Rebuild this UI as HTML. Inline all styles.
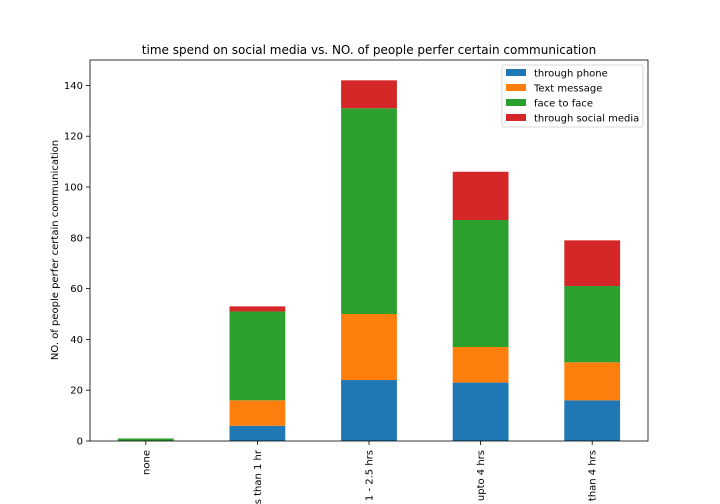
<!DOCTYPE html>
<html><head><meta charset="utf-8"><style>
html,body{margin:0;background:#fff;width:720px;height:504px;overflow:hidden;}
svg{display:block;overflow:hidden;font-family:"DejaVu Sans","Liberation Sans",sans-serif;}
</style></head><body>
<svg id="chart" width="720" height="504" viewBox="0 0 720 504">
<text x="369" y="54" text-anchor="middle" font-size="12">time spend on social media vs. NO. of people perfer certain communication</text>
<text transform="translate(58,250) rotate(-90)" text-anchor="middle" font-size="10">NO. of people perfer certain communication</text>
<g id="marks"></g>
<g id="axes"></g>
<rect x="90" y="60" width="558" height="381" fill="none" stroke="#000" stroke-width="0.8"/>
<g id="legend"></g>
</svg>
<script>
const categories=["none","less than 1 hr","1 - 2.5 hrs","upto 4 hrs","more than 4 hrs"];
const seriesNames=["through phone","Text message","face to face","through social media"];
const phone=[0,6,24,23,16];
const text=[0,10,26,14,15];
const face=[1,35,81,50,30];
const social=[0,2,11,19,18];
const yTicks=[0,20,40,60,80,100,120,140];
const colors=["#1f77b4","#ff7f0e","#2ca02c","#d62728"];
const series=[phone,text,face,social];
const NS="http://www.w3.org/2000/svg";
const x0=90,x1=648,yb=441,pxPer=(441-85.4)/140;
const y=v=>yb-v*pxPer;
const step=(x1-x0)/categories.length;
const xc=i=>x0+step*(i+0.5);
const bw=step*0.5;
const marks=document.getElementById('marks'),axes=document.getElementById('axes'),legend=document.getElementById('legend');
function mk(tag,attrs,parent){const e=document.createElementNS(NS,tag);for(const k in attrs)e.setAttribute(k,attrs[k]);parent.appendChild(e);return e;}
categories.forEach((c,i)=>{
  let base=0;
  series.forEach((s,j)=>{
    const v=s[i];
    if(v>0){
      const r=mk('rect',{x:xc(i)-bw/2,y:y(base+v),width:bw,height:y(base)-y(base+v),fill:colors[j]},marks);
      
      
    }
    base+=v;
  });
  const t=mk('line',{x1:xc(i),x2:xc(i),y1:yb,y2:yb+4,stroke:'#000','stroke-width':0.8},axes);
  
  
  const l=mk('text',{transform:`translate(${xc(i)+3.5},450) rotate(-90)`,'text-anchor':'end','font-size':10},axes);
  l.textContent=c;
  
  
});
yTicks.forEach(v=>{
  const t=mk('line',{x1:x0-4,x2:x0,y1:y(v),y2:y(v),stroke:'#000','stroke-width':0.8},axes);
  
  
  const l=mk('text',{x:x0-7,y:y(v)+3.5,'text-anchor':'end','font-size':10},axes);
  l.textContent=v;
  
  
});
const box=mk('rect',{x:502,y:65,width:141,height:62,rx:2,fill:'#fff','fill-opacity':0.8,stroke:'#ccc','stroke-width':0.8},legend);


seriesNames.forEach((n,j)=>{
  const yy=69+j*15;
  const sw=mk('rect',{x:506,y:yy,width:20,height:7,fill:colors[j]},legend);
  
  
  const t=mk('text',{x:534,y:yy+7.5,'font-size':10},legend);
  t.textContent=n;
  
  
});
</script>
</body></html>
